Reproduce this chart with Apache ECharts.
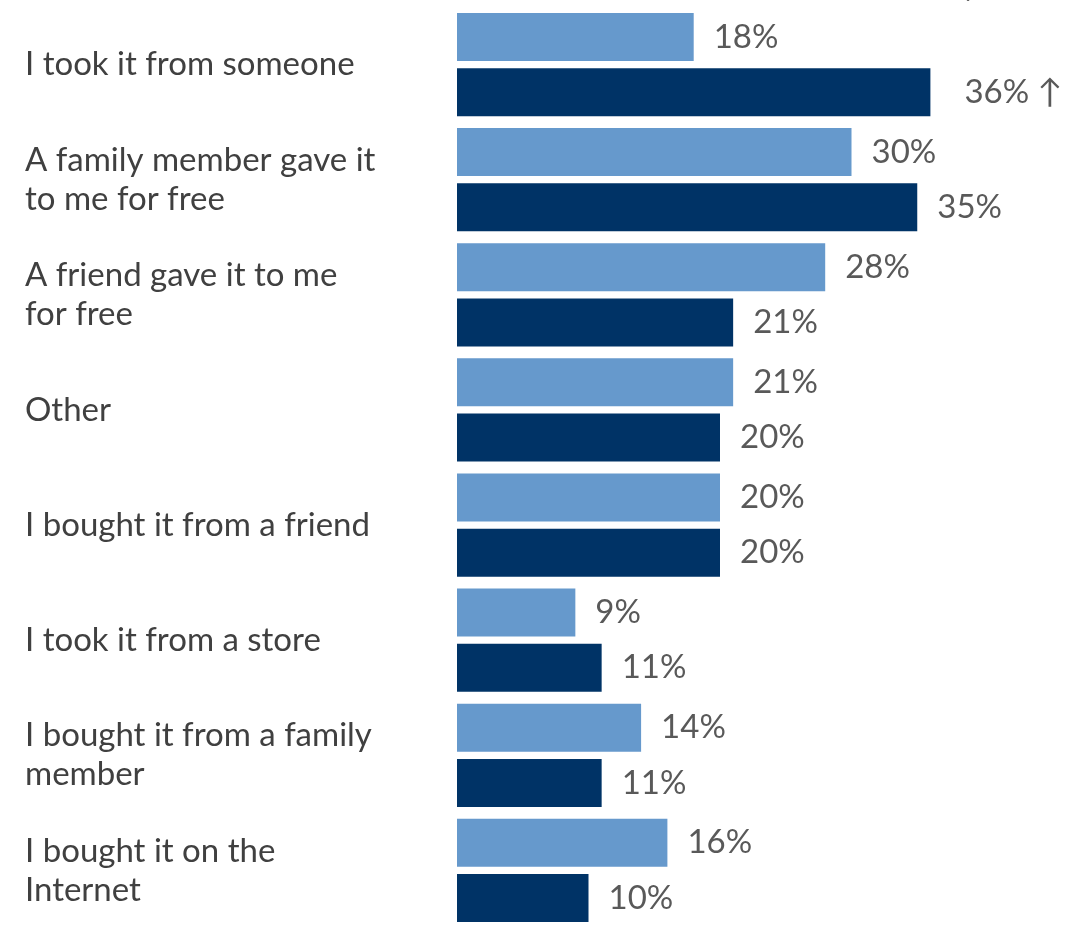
<!DOCTYPE html>
<html>
<head>
<meta charset="utf-8">
<script src="https://cdn.jsdelivr.net/npm/echarts@6/dist/echarts.min.js"></script>
<style>
  html, body { margin: 0; padding: 0; background: #fff; }
  #chart { width: 1079px; height: 929px; }
</style>
</head>
<body>
<div id="chart"></div>
<script>
// categories, top to bottom
const categories = [
  'I took it from someone',
  'A family member gave it\nto me for free',
  'A friend gave it to me\nfor free',
  'Other',
  'I bought it from a friend',
  'I took it from a store',
  'I bought it from a family\nmember',
  'I bought it on the\nInternet'
];
// light blue series (upper bar)
const lightValues = [18, 30, 28, 21, 20, 9, 14, 16];
// dark blue series (lower bar)
const darkValues = [36, 35, 21, 20, 20, 11, 11, 10];
// marks shown after a value label
const darkMarks = ['↑', '', '', '', '', '', '', ''];

const chart = echarts.init(document.getElementById('chart'));

const labelStyle = {
  show: true,
  position: 'right',
  distance: 20,
  color: '#595959',
  fontSize: 33,
  fontFamily: 'Lato'
};

// dark bars: the one with a mark sits a bit further out
const darkData = darkValues.map((v, i) => darkMarks[i]
  ? { value: v, label: { distance: 34 } }
  : v);

chart.setOption({
  animation: false,
  grid: { left: 457, top: 7, bottom: 1, width: 526, containLabel: false },
  xAxis: {
    type: 'value',
    min: 0,
    max: 40,
    show: false
  },
  yAxis: {
    type: 'category',
    inverse: true,
    data: categories,
    axisLine: { show: false },
    axisTick: { show: false },
    axisLabel: {
      align: 'left',
      margin: 432,
      color: '#404040',
      fontSize: 33,
      lineHeight: 39,
      fontFamily: 'Lato'
    }
  },
  series: [
    {
      type: 'bar',
      data: lightValues,
      barWidth: 48,
      barGap: '15%',
      itemStyle: { color: '#6699cc' },
      label: Object.assign({}, labelStyle, { formatter: p => p.value + '%' })
    },
    {
      type: 'bar',
      data: darkData,
      barWidth: 48,
      itemStyle: { color: '#003366' },
      label: Object.assign({}, labelStyle, {
        formatter: p => p.value + '%' + (darkMarks[p.dataIndex] ? ' ' + darkMarks[p.dataIndex] : '')
      })
    }
  ],
  graphic: [
    {
      // tail of an arrow cut off at the top edge
      type: 'text',
      left: 958,
      top: -17,
      style: { text: '↓', fill: '#595959', fontSize: 24, fontFamily: 'DejaVu Sans' }
    }
  ]
});
</script>
</body>
</html>
